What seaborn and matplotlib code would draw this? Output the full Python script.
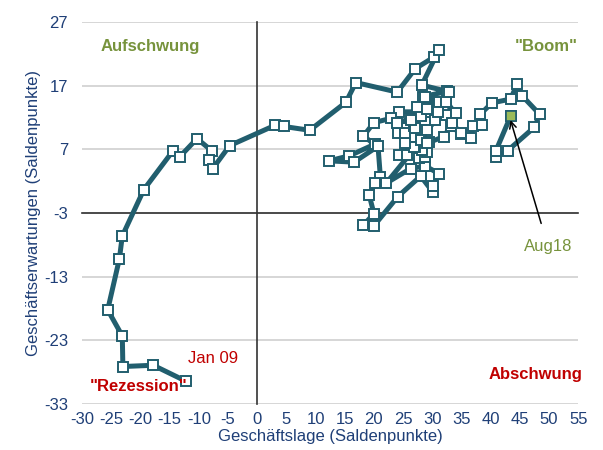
import numpy as np
import pandas as pd
import matplotlib
matplotlib.use("Agg")
import matplotlib.pyplot as plt
import seaborn as sns

sns.set_style("white")
plt.rcParams['font.family'] = ['Liberation Sans', 'DejaVu Sans']
plt.rcParams['axes.unicode_minus'] = False

# ifo Konjunkturuhr: Geschäftslage (x) vs. Geschäftserwartungen (y), Jan 09 .. Aug 18
lage = [-12.2, -17.8, -23.0, -23.1, -25.6, -23.6, -23.1, -19.4, -14.4, -13.3, -10.3, -7.8,
        -8.3, -7.6, -4.7, 3.1, 4.6, 9.0, 15.2, 16.9, 24.0, 27.1, 30.3, 31.1,
        28.2, 32.6, 28.4, 31.1, 29.1, 24.3, 23.0, 20.0, 18.2, 20.1, 15.8, 12.3,
        16.6, 20.7, 21.1, 20.2, 19.2, 20.0, 18.2, 20.0, 24.1, 28.0, 30.1, 30.1,
        31.1, 28.8, 26.3, 22.1, 26.3, 24.3, 25.7, 27.7, 28.8, 29.1, 28.3, 27.1,
        26.8, 25.4, 24.1, 25.4, 26.8, 28.0, 29.1, 27.1, 26.3, 24.0, 28.0, 27.4,
        29.1, 30.9, 30.5, 28.0, 29.4, 29.1, 32.0, 33.4, 32.3, 34.0, 32.3, 32.8,
        33.2, 34.9, 28.8, 30.9, 33.4, 34.9, 36.6, 36.9, 38.5, 38.2, 40.2, 43.4,
        44.5, 45.4, 48.4, 47.5, 42.9, 40.9, 40.9, 43.4]
erwartung = [-29.4, -26.9, -27.1, -22.3, -18.2, -10.2, -6.6, 0.7, 6.8, 5.8, 8.7, 6.8,
             5.3, 4.0, 7.6, 10.8, 10.6, 10.0, 14.4, 17.5, 16.0, 19.7, 21.5, 22.6,
             17.1, 16.1, 15.3, 14.5, 12.9, 12.9, 11.9, 11.2, 9.1, 7.8, 6.0, 5.2,
             5.0, 7.5, 2.7, 1.7, -0.2, -3.1, -4.9, -5.0, -0.4, 2.8, 0.3, 1.2,
             3.2, 4.4, 4.0, 1.7, 6.4, 6.1, 6.1, 5.6, 5.8, 6.6, 6.9, 7.4,
             7.4, 8.0, 9.5, 9.5, 10.6, 10.0, 10.0, 10.3, 11.6, 11.2, 12.2, 13.7,
             13.4, 12.9, 11.6, 8.5, 8.2, 8.0, 9.0, 11.1, 12.4, 12.7, 14.5, 16.0,
             10.7, 9.4, 15.3, 12.9, 11.1, 9.5, 8.8, 10.6, 10.9, 12.5, 14.3, 14.9,
             17.2, 15.4, 12.5, 10.5, 6.8, 5.8, 6.8, 12.2]

x_ticks = list(range(-30, 56, 5))
y_ticks = [-33, -23, -13, -3, 7, 17, 27]

df = pd.DataFrame({"lage": lage, "erwartung": erwartung})

teal = "#215E6E"
green = "#77933C"
red = "#C00000"
blue = "#1F3F77"

fig = plt.figure(figsize=(6.03, 4.5), dpi=100)
ax = fig.add_axes([0.136, 0.102, 0.823, 0.849])

# Gitterlinien
for yv in y_ticks:
    ax.axhline(yv, color="#D0D0D0", lw=1.2, zorder=0)

sns.lineplot(data=df, x="lage", y="erwartung", sort=False, estimator=None, errorbar=None,
             ax=ax, color=teal, lw=3.6,
             marker="s", markersize=7.5, markerfacecolor="white", markeredgecolor=teal,
             markeredgewidth=1.4, zorder=3)
last = df.iloc[[-1]]
sns.scatterplot(data=last, x="lage", y="erwartung", ax=ax, marker="s", s=56,
                color="#9BBB59", edgecolor=teal, linewidth=1.2, zorder=4)

ax.set_xlim(-30, 55)
ax.set_ylim(-33, 27)

# Achsenkreuz bei (0, -3)
ax.spines['left'].set_position(('data', 0))
ax.spines['bottom'].set_position(('data', -3))
ax.spines['top'].set_visible(False)
ax.spines['right'].set_visible(False)
for s in ['left', 'bottom']:
    ax.spines[s].set_color("#333333")
    ax.spines[s].set_linewidth(1.2)
ax.set_xticks(x_ticks)
ax.set_yticks(y_ticks)
ax.tick_params(axis='both', direction='out', length=4, width=1, color="#333333",
               labelbottom=False, labelleft=False)
ax.set_xlabel("")
ax.set_ylabel("")

# Beschriftung am Rand
secx = ax.secondary_xaxis(0)
secx.set_xticks(x_ticks)
secx.tick_params(length=0, labelsize=12, labelcolor=blue, pad=6)
secx.spines['bottom'].set_visible(False)
secx.set_xlabel("Geschäftslage (Saldenpunkte)", fontsize=12, color=blue, labelpad=1)

secy = ax.secondary_yaxis(0)
secy.set_yticks(y_ticks)
secy.tick_params(length=0, labelsize=12, labelcolor=blue, pad=10)
secy.spines['left'].set_visible(False)
secy.set_ylabel("Geschäftserwartungen (Saldenpunkte)", fontsize=12, color=blue, labelpad=2)

ax.text(-18.3, 23.2, "Aufschwung", color=green, fontsize=12, fontweight="bold",
        ha="center", va="center")
ax.text(49.5, 23.2, '"Boom"', color=green, fontsize=12, fontweight="bold",
        ha="center", va="center")
ax.text(-20.3, -30.3, '"Rezession"', color=red, fontsize=12, fontweight="bold",
        ha="center", va="center")
ax.text(47.6, -28.3, "Abschwung", color=red, fontsize=12, fontweight="bold",
        ha="center", va="center")
ax.text(-7.6, -25.8, "Jan 09", color=red, fontsize=12, ha="center", va="center")

ax.annotate("Aug18", xy=(lage[-1], erwartung[-1] - 0.6), xytext=(49.8, -8.2),
            color=green, fontsize=12, ha="center", va="center",
            arrowprops=dict(arrowstyle="->", color="black", lw=1.1, shrinkB=0,
                            shrinkA=9), zorder=5)

fig.savefig("out.png", dpi=100)
